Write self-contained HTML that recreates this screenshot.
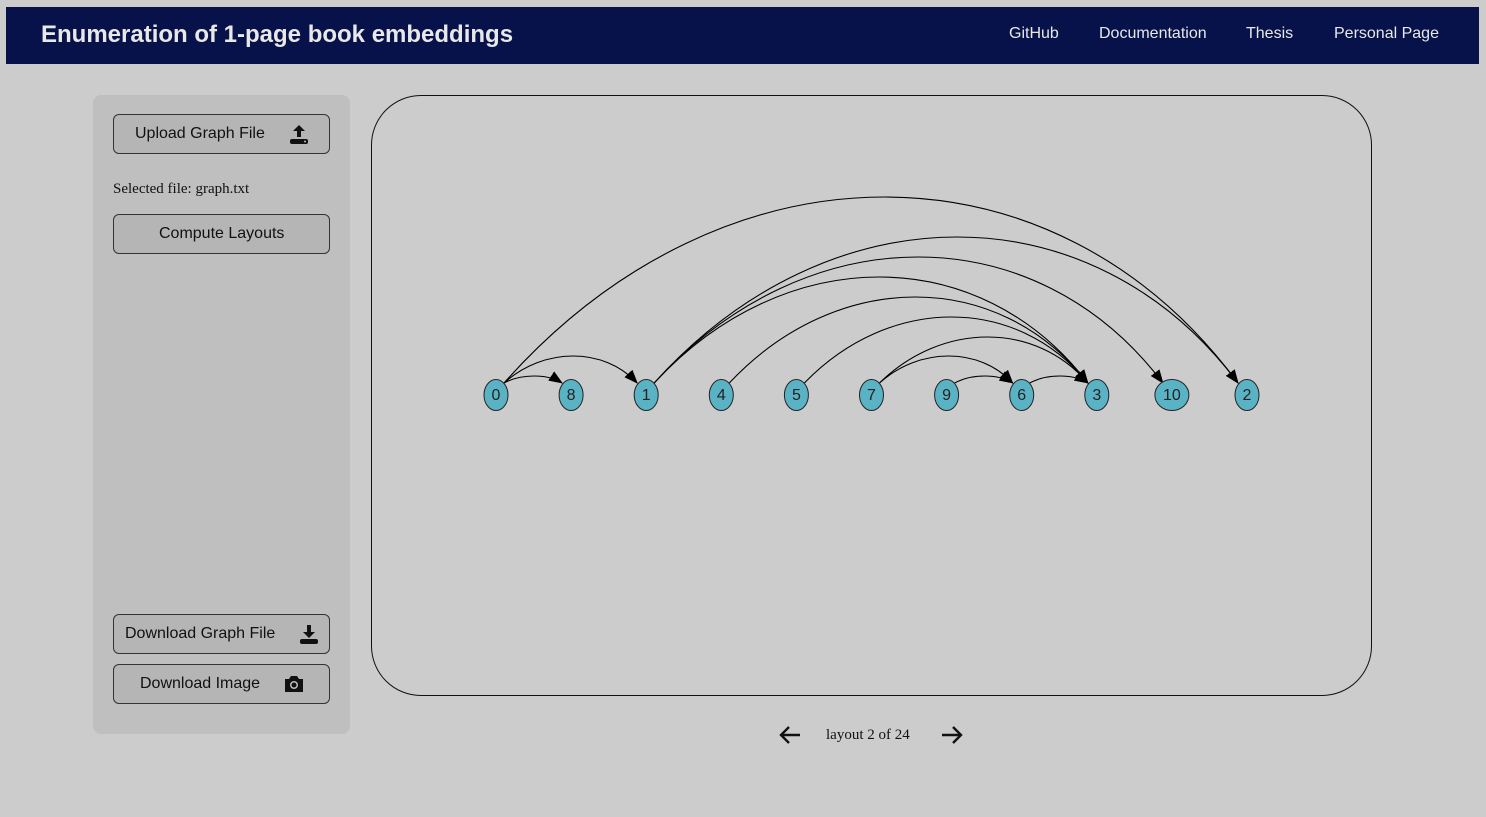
<!DOCTYPE html>
<html><head><meta charset="utf-8"><style>
body{margin:0;width:1486px;height:817px;background:#cccccc;font-family:"Liberation Sans",sans-serif;position:relative;overflow:hidden}
.hdr{position:absolute;left:6px;top:7px;width:1473px;height:57px;background:#07124a;color:#e8e8e8}
.title{position:absolute;left:35px;top:14px;font-size:24px;font-weight:bold}
.nav{position:absolute;top:18px;font-size:16px}
.side{position:absolute;left:93px;top:95px;width:257px;height:639px;background:#bfbfbf;border-radius:8px}
.btn{position:absolute;left:20px;width:215px;height:38px;border:1px solid #333;border-radius:6px;background:#b5b5b5;font-size:16px;color:#111;box-sizing:content-box}
.btn span{position:absolute;top:10px}
.btn svg{position:absolute;top:8px}
.sel{position:absolute;left:20px;top:86px;font-family:"Liberation Serif",serif;font-size:15px;color:#111}
.box{position:absolute;left:371px;top:95px;width:999px;height:599px;border:1px solid #111;border-radius:50px}
.pg{position:absolute;left:826px;top:727px;font-family:"Liberation Serif",serif;font-size:15px;color:#111}
</style></head><body>
<div class="hdr">
<div class="title">Enumeration of 1-page book embeddings</div>
<div class="nav" style="left:1003px">GitHub</div>
<div class="nav" style="left:1093px">Documentation</div>
<div class="nav" style="left:1240px">Thesis</div>
<div class="nav" style="left:1328px">Personal Page</div>
</div>
<div class="side">
<div class="btn" style="top:19px"><span style="left:21px">Upload Graph File</span>
<svg style="left:174px" width="22" height="22" viewBox="0 0 22 22"><path d="M11 2 L5 8 H9 V14 H13 V8 H17 Z" fill="#111"/><rect x="2" y="16" width="18" height="5" rx="2" fill="#111"/><circle cx="17" cy="18.5" r="1" fill="#bbb"/></svg></div>
<div class="sel">Selected file: graph.txt</div>
<div class="btn" style="top:119px"><span style="left:45px">Compute Layouts</span></div>
<div class="btn" style="top:519px"><span style="left:11px">Download Graph File</span>
<svg style="left:184px" width="22" height="22" viewBox="0 0 22 22"><path d="M11 15 L5 9 H9 V2 H13 V9 H17 Z" fill="#111"/><rect x="2" y="16" width="18" height="5" rx="2" fill="#111"/></svg></div>
<div class="btn" style="top:569px"><span style="left:26px">Download Image</span>
<svg style="left:169px;top:9px" width="22" height="20" viewBox="0 0 22 20"><path d="M2 5 H6 L8 2 H14 L16 5 H20 V18 H2 Z" fill="#111"/><circle cx="11" cy="11" r="4" fill="#bbb"/><circle cx="11" cy="11" r="2.5" fill="#111"/></svg></div>
</div>
<div class="box"></div>
<svg id="g" style="position:absolute;left:0;top:0" width="1486" height="817">
<defs><marker id="ar" markerWidth="14" markerHeight="11" refX="13" refY="5.5" orient="auto" markerUnits="userSpaceOnUse" viewBox="0 0 14 11"><path d="M0 0 L14 5.5 L0 11 Z" fill="#000"/></marker></defs>
</svg>
<svg style="position:absolute;left:778px;top:724px" width="24" height="22"><path d="M22 11 H3 M11 3 L3 11 L11 19" stroke="#111" stroke-width="2.4" fill="none"/></svg>
<div class="pg">layout 2 of 24</div>
<svg style="position:absolute;left:940px;top:724px" width="24" height="22"><path d="M2 11 H21 M13 3 L21 11 L13 19" stroke="#111" stroke-width="2.4" fill="none"/></svg>
<script>
const nodeOrder=["0","8","1","4","5","7","9","6","3","10","2"];
const edgeSources=["0","0","0","1","1","1","4","5","7","7","9","6"];
const edgeTargets=["8","1","2","2","10","3","3","3","3","6","6","3"];
const edgePeaks=[376,356,197,237,257,277,297,317,337,356,376,376];
const svg=document.getElementById('g');const NS='http://www.w3.org/2000/svg';
const x0=496,step=75.1,yN=395,yE=383;
const px=n=>x0+nodeOrder.indexOf(n)*step;
for(let i=0;i<edgeSources.length;i++){
 const a=px(edgeSources[i])+8,b=px(edgeTargets[i])-9,d=b-a;
 const cy=yE-(yE-edgePeaks[i])/0.75;
 const p=document.createElementNS(NS,'path');
 p.setAttribute('d',`M${a} ${yE} C${a+d*0.3} ${cy} ${b-d*0.25} ${cy} ${b} ${yE}`);
 p.setAttribute('fill','none');p.setAttribute('stroke','#000');p.setAttribute('stroke-width','1.1');
 p.setAttribute('marker-end','url(#ar)');
 
 
 svg.appendChild(p);
}
nodeOrder.forEach((n,i)=>{
 const e=document.createElementNS(NS,'ellipse');
 e.setAttribute('cx',x0+i*step);e.setAttribute('cy',yN);
 e.setAttribute('rx',n.length>1?17:12);e.setAttribute('ry',15.5);
 e.setAttribute('fill','#5ab3c4');e.setAttribute('stroke','#222');
 
 
 svg.appendChild(e);
 const t=document.createElementNS(NS,'text');
 t.setAttribute('x',x0+i*step);t.setAttribute('y',yN+5);t.setAttribute('text-anchor','middle');
 t.setAttribute('font-size','16');t.setAttribute('font-family','Liberation Sans, sans-serif');t.setAttribute('fill','#222');
 t.textContent=n;
 
 
 svg.appendChild(t);
});
</script>
</body></html>
